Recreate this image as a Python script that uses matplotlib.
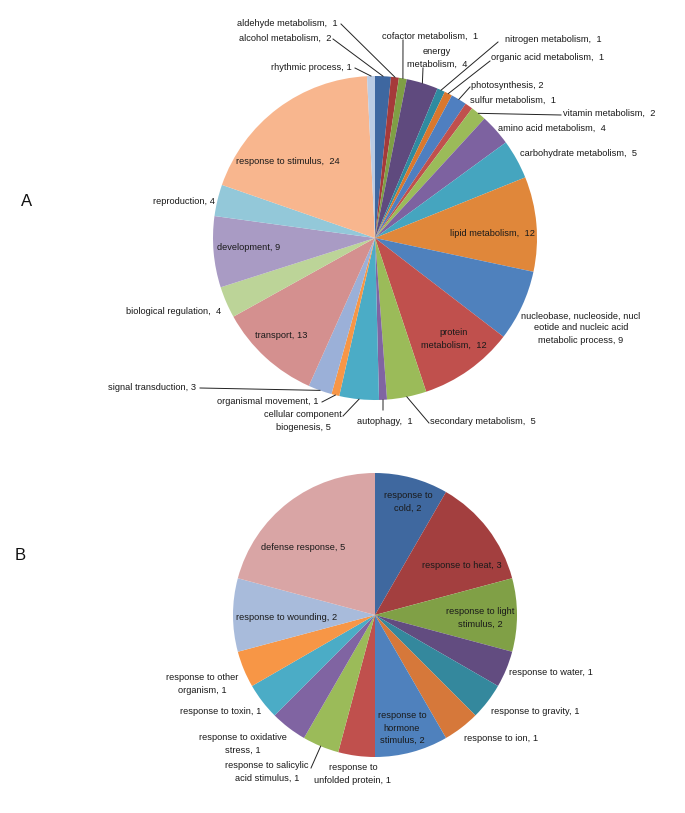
import numpy as np
import matplotlib.pyplot as plt
plt.rcParams['font.family'] = ['Liberation Sans Narrow', 'Liberation Sans', 'DejaVu Sans']

W, H = 685, 813

# pie A: biological process categories (clockwise from 12 o'clock)
catsA = ["alcohol metabolism", "aldehyde metabolism", "cofactor metabolism", "energy metabolism",
         "nitrogen metabolism", "organic acid metabolism", "photosynthesis", "sulfur metabolism",
         "vitamin metabolism", "amino acid metabolism", "carbohydrate metabolism", "lipid metabolism",
         "nucleobase", "protein metabolism", "secondary metabolism", "autophagy",
         "cellular component biogenesis", "organismal movement", "signal transduction", "transport",
         "biological regulation", "development", "reproduction", "response to stimulus",
         "rhythmic process"]
valsA = [2, 1, 1, 4, 1, 1, 2, 1, 2, 4, 5, 12, 9, 12, 5, 1, 5, 1, 3, 13, 4, 9, 4, 24, 1]
colsA = ["#3E67A0", "#A53A3A", "#7F9F45", "#5F4A7E", "#2F8BA0", "#D9782E", "#4F7FC0", "#C0504D",
         "#9BBB59", "#7D62A0", "#45A5BF", "#E0873A", "#4F81BD", "#C0504D", "#9BBB59", "#8064A2",
         "#4BACC6", "#F79646", "#9BB0D8", "#D4908F", "#BCD498", "#A99BC4", "#93C8D9", "#F8B68E",
         "#BBCCE4"]
textA = ["alcohol metabolism,  2", "aldehyde metabolism,  1", "cofactor metabolism,  1",
         "energy\nmetabolism,  4", "nitrogen metabolism,  1", "organic acid metabolism,  1",
         "photosynthesis, 2", "sulfur metabolism,  1", "vitamin metabolism,  2",
         "amino acid metabolism,  4", "carbohydrate metabolism,  5", "lipid metabolism,  12",
         "nucleobase, nucleoside, nucl\neotide and nucleic acid\nmetabolic process, 9",
         "protein\nmetabolism,  12", "secondary metabolism,  5", "autophagy,  1",
         "cellular component\nbiogenesis, 5", "organismal movement, 1", "signal transduction, 3",
         "transport, 13", "biological regulation,  4", "development, 9", "reproduction, 4",
         "response to stimulus,  24", "rhythmic process, 1"]

# pie B: response to stimulus subcategories
catsB = ["cold", "heat", "light stimulus", "water", "gravity", "ion", "hormone stimulus",
         "unfolded protein", "salicylic acid stimulus", "oxidative stress", "toxin",
         "other organism", "wounding", "defense"]
valsB = [2, 3, 2, 1, 1, 1, 2, 1, 1, 1, 1, 1, 2, 5]
colsB = ["#3F689F", "#A33F3F", "#80A046", "#624C80", "#34889D", "#D6783A", "#4F81BD", "#C0504D",
         "#9BBB59", "#8064A2", "#4BACC6", "#F79646", "#A8BBDB", "#D9A5A5"]
textB = ["response to\ncold, 2", "response to heat, 3", "response to light\nstimulus, 2",
         "response to water, 1", "response to gravity, 1", "response to ion, 1",
         "response to\nhormone\nstimulus, 2", "response to\nunfolded protein, 1",
         "response to salicylic\nacid stimulus, 1", "response to oxidative\nstress, 1",
         "response to toxin, 1", "response to other\norganism, 1", "response to wounding, 2",
         "defense response, 5"]

# label layout in pixels: (x, y, ha, leader start or None)
layA = [(331, 38, 'right', (333, 39)), (338, 24, 'right', (341, 24)), (430, 36, 'center', (403, 40)),
        (437, 58, 'center', (423, 68)), (505, 40, 'left', (498, 42)), (491, 58, 'left', (490, 61)),
        (471, 85, 'left', (470, 87)), (470, 100, 'left', None), (563, 113, 'left', (561, 115)),
        (498, 128, 'left', None), (520, 154, 'left', None), (492, 233, 'center', None),
        (581, 328, 'center', None), (454, 339, 'center', None), (430, 422, 'left', (429, 423)),
        (357, 422, 'left', (383, 410)), (303, 421, 'center', (343, 416)), (319, 401, 'right', (322, 402)),
        (196, 387, 'right', (200, 388)), (281, 335, 'center', None), (221, 312, 'right', None),
        (249, 248, 'center', None), (215, 201, 'right', None), (288, 161, 'center', None),
        (352, 67, 'right', (355, 68))]
layB = [(408, 502, 'center', None), (462, 565, 'center', None), (480, 618, 'center', None),
        (509, 672, 'left', None), (491, 711, 'left', None), (464, 738, 'left', None),
        (402, 728, 'center', None), (353, 774, 'center', None), (267, 772, 'center', (311, 768)),
        (243, 744, 'center', None), (180, 711, 'left', None), (202, 684, 'center', None),
        (287, 617, 'center', None), (303, 548, 'center', None)]

fig = plt.figure(figsize=(W / 100, H / 100), dpi=100)
ax = fig.add_axes([0, 0, 1, 1])


def draw(vals, cols, texts, lay, cx, cy, r):
    wedges, _ = ax.pie(vals, colors=cols, startangle=90, counterclock=False,
                       center=(cx, H - cy), radius=r, wedgeprops=dict(linewidth=0),
                       frame=True)
    for w, t, (x, y, ha, st) in zip(wedges, texts, lay):
        ax.text(x, H - y, t, ha=ha, va='center', fontsize=6.7, color='#1a1a1a',
                multialignment='center', linespacing=1.45)
        if st is not None:
            a = np.deg2rad((w.theta1 + w.theta2) / 2)
            ex, ey = cx + r * np.cos(a), H - cy + r * np.sin(a)
            ax.plot([st[0], ex], [H - st[1], ey], color='#222222', lw=0.7)


draw(valsA, colsA, textA, layA, 375, 238, 162)
draw(valsB, colsB, textB, layB, 375, 615, 142)
ax.set_xlim(0, W)
ax.set_ylim(0, H)
ax.set_aspect('auto')
ax.axis('off')

ax.text(27, H - 202, "A", fontsize=12, ha='center', va='center', color='#111111')
ax.text(20, H - 556, "B", fontsize=12, ha='center', va='center', color='#111111')

plt.savefig("out.png", dpi=100)
plt.close(fig)
